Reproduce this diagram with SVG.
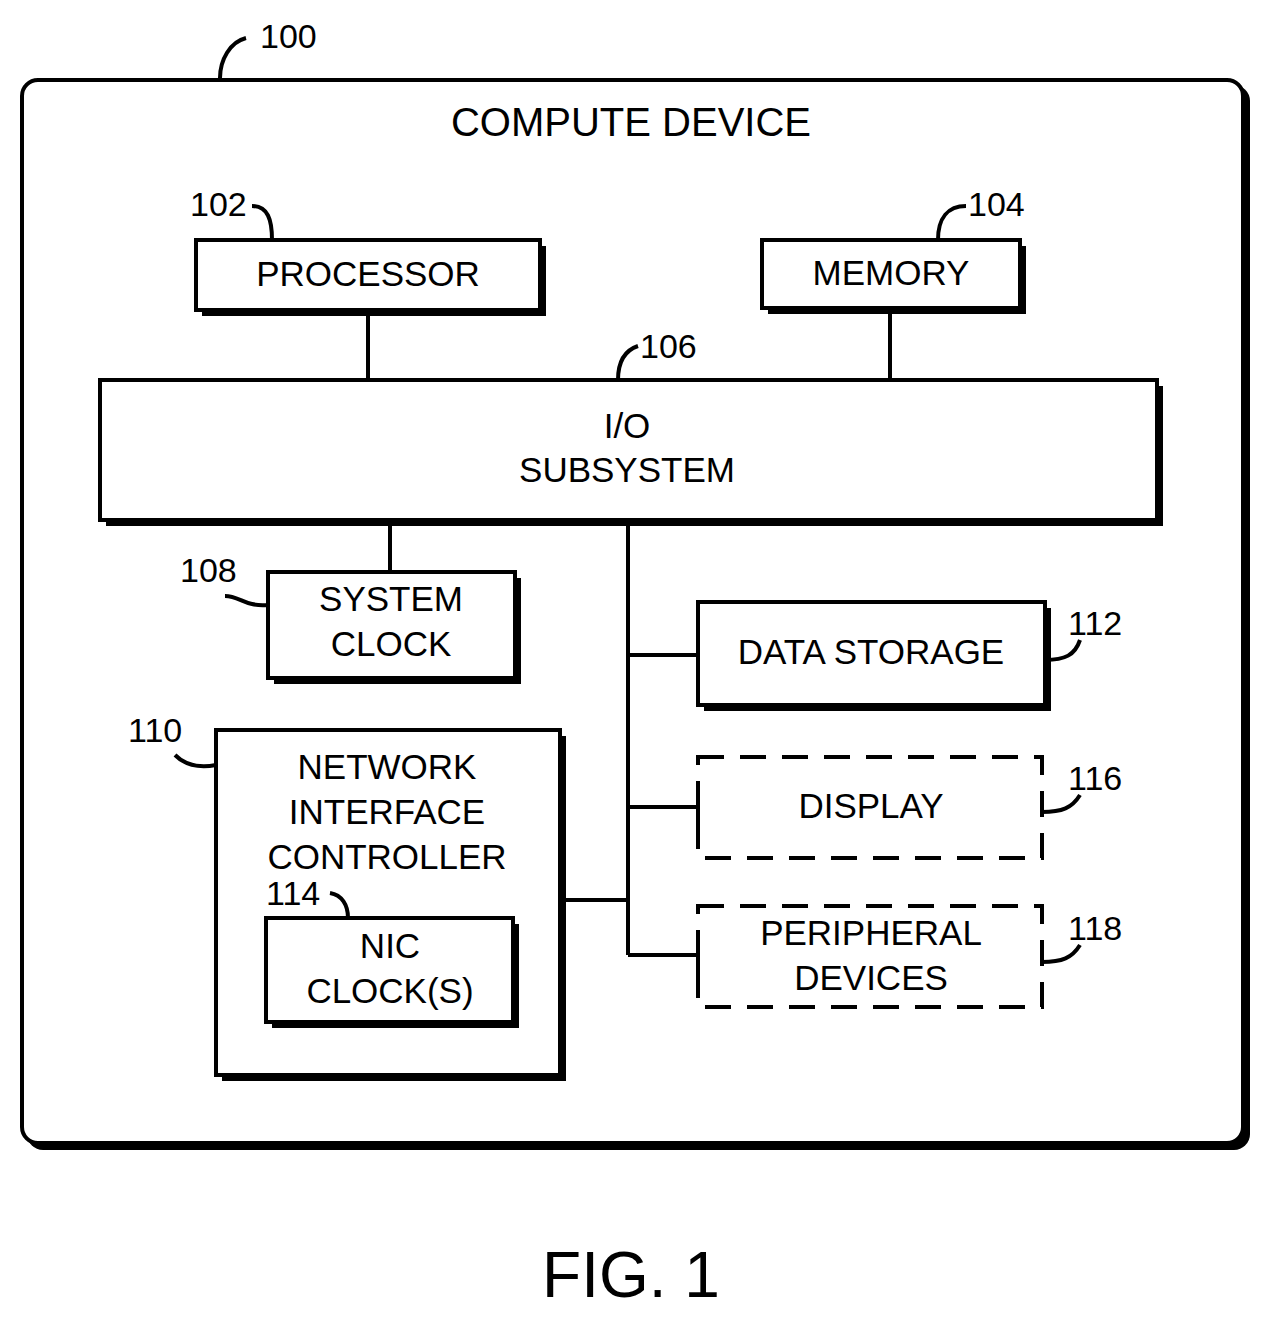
<svg xmlns="http://www.w3.org/2000/svg" width="1268" height="1320" viewBox="0 0 1268 1320">
<style>
.b{fill:#fff;stroke:#000;stroke-width:4}
.s{fill:#000}
.d{fill:#fff;stroke:#000;stroke-width:4;stroke-dasharray:26 16}
.t{font-family:"Liberation Sans",Arial,sans-serif;font-size:35px;text-anchor:middle;fill:#000}
.n{font-family:"Liberation Sans",Arial,sans-serif;font-size:34px;fill:#000}
.l{fill:none;stroke:#000;stroke-width:4}
</style>
<rect x="0" y="0" width="1268" height="1320" fill="#fff"/>
<g id="device">
<rect x="27" y="85" width="1223" height="1065" rx="16" class="s"/>
<rect x="22" y="80" width="1221" height="1063" rx="16" class="b"/>
<text x="631" y="136" class="t" font-size="40" style="font-size:40px">COMPUTE DEVICE</text>
<text x="260" y="48" class="n">100</text>
<path d="M220,78 C220,60 230,42 246,38" class="l"/>
</g>
<g id="connectors">
<path d="M368,310V380M890,308V380M390,520V572M628,520V955M628,655H698M628,807H698M628,955H698M560,900H628" class="l"/>
</g>
<g id="processor">
<rect x="202" y="246" width="344" height="70" class="s"/>
<rect x="196" y="240" width="344" height="70" class="b"/>
<text x="368" y="286" class="t">PROCESSOR</text>
<text x="190" y="216" class="n">102</text>
<path d="M252,206 C268,206 272,220 272,240" class="l"/>
</g>
<g id="memory">
<rect x="768" y="246" width="258" height="68" class="s"/>
<rect x="762" y="240" width="258" height="68" class="b"/>
<text x="891" y="285" class="t">MEMORY</text>
<text x="968" y="216" class="n">104</text>
<path d="M966,206 C948,206 938,218 938,240" class="l"/>
</g>
<g id="io">
<rect x="106" y="386" width="1057" height="140" class="s"/>
<rect x="100" y="380" width="1057" height="140" class="b"/>
<text x="627" y="438" class="t">I/O</text>
<text x="627" y="482" class="t">SUBSYSTEM</text>
<text x="640" y="358" class="n">106</text>
<path d="M618,380 C618,360 626,350 638,346" class="l"/>
</g>
<g id="sysclock">
<rect x="274" y="578" width="247" height="106" class="s"/>
<rect x="268" y="572" width="247" height="106" class="b"/>
<text x="391" y="611" class="t">SYSTEM</text>
<text x="391" y="656" class="t">CLOCK</text>
<text x="180" y="582" class="n">108</text>
<path d="M225,596 C240,596 245,607 268,605" class="l"/>
</g>
<g id="storage">
<rect x="704" y="608" width="347" height="103" class="s"/>
<rect x="698" y="602" width="347" height="103" class="b"/>
<text x="871" y="664" class="t">DATA STORAGE</text>
<text x="1068" y="635" class="n">112</text>
<path d="M1045,660 C1065,660 1075,655 1080,640" class="l"/>
</g>
<g id="display">
<rect x="698" y="757" width="344" height="101" class="d"/>
<path d="M698,790V830" class="l"/>
<text x="871" y="818" class="t">DISPLAY</text>
<text x="1068" y="790" class="n">116</text>
<path d="M1042,812 C1062,812 1072,808 1080,795" class="l"/>
</g>
<g id="peripheral">
<rect x="698" y="906" width="344" height="101" class="d"/>
<path d="M698,940V980" class="l"/>
<text x="871" y="945" class="t">PERIPHERAL</text>
<text x="871" y="990" class="t">DEVICES</text>
<text x="1068" y="940" class="n">118</text>
<path d="M1042,962 C1062,962 1072,958 1080,945" class="l"/>
</g>
<g id="nic">
<rect x="222" y="736" width="344" height="345" class="s"/>
<rect x="216" y="730" width="344" height="345" class="b"/>
<text x="387" y="779" class="t">NETWORK</text>
<text x="387" y="824" class="t">INTERFACE</text>
<text x="387" y="869" class="t">CONTROLLER</text>
<text x="128" y="742" class="n">110</text>
<path d="M175,755 C185,765 200,768 216,765" class="l"/>
</g>
<g id="nicclock">
<rect x="272" y="924" width="247" height="104" class="s"/>
<rect x="266" y="918" width="247" height="104" class="b"/>
<text x="390" y="958" class="t">NIC</text>
<text x="390" y="1003" class="t">CLOCK(S)</text>
<text x="266" y="905" class="n">114</text>
<path d="M330,893 C342,895 348,905 348,918" class="l"/>
</g>
<text x="631" y="1297" class="t" style="font-size:64px">FIG. 1</text>
</svg>
